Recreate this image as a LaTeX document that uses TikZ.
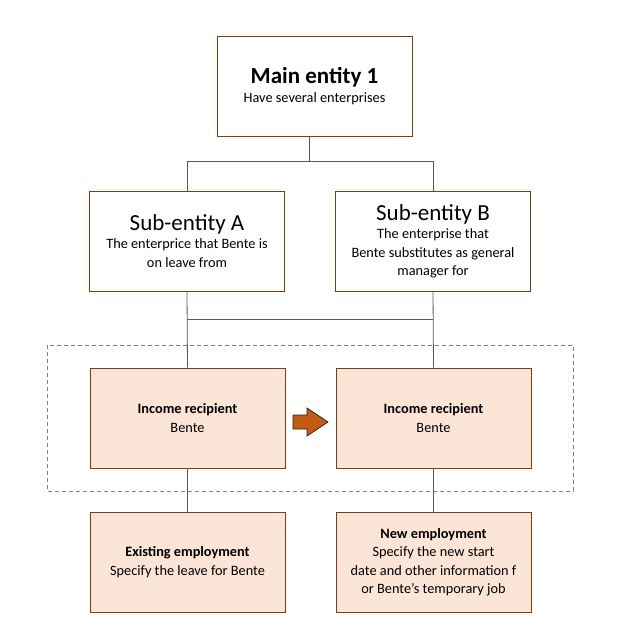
\documentclass[tikz,border=0pt]{standalone}
\usepackage{fontspec}
\setmainfont{Carlito}
\usetikzlibrary{positioning}
\definecolor{bordo}{HTML}{843C0C}
\definecolor{pesca}{HTML}{FBE5D6}
\definecolor{ruggine}{HTML}{C55A11}
\definecolor{linea}{HTML}{595959}
\begin{document}
\begin{tikzpicture}[
			x=1pt, y=-1pt, font=\fontsize{14.3}{18.5}\selectfont,
			ente/.style={draw=bordo, line width=1pt, minimum width=195pt, minimum height=100pt, align=center, inner sep=2pt},
			reddito/.style={ente, fill=pesca},
			filo/.style={draw=linea, line width=0.8pt}]
			\useasboundingbox (0,0) rectangle (640,632);
			\def\tit{\fontsize{23}{27}\selectfont}
			
			%% livello alto: ente principale e sotto-enti
			\node[ente] (main) at (314.5,86) {{\tit\bfseries Main entity 1}\\Have several enterprises};
			\node[ente] (subA) at (187,241) {{\tit Sub-entity A}\\The enterprice that Bente is\\on leave from};
			\node[ente] (subB) at (433,241) {{\tit Sub-entity B}\\The enterprise that\\Bente substitutes as general\\manager for};
			
			%% riquadro tratteggiato attorno ai percettori
			\draw[draw=gray, line width=0.8pt, dash pattern=on 4pt off 3pt] (47,345) rectangle (573,491);
			\node[reddito] (incA) at (187.5,418) {\textbf{Income recipient}\\Bente};
			\node[reddito] (incB) at (433.5,418) {\textbf{Income recipient}\\Bente};
			
			%% freccia piena tra i due percettori
			\coordinate (passa) at (310.5,422);
			\filldraw[fill=ruggine, draw=black!85, line width=0.8pt, line join=miter]
				(passa) ++(-17.5,-7) -- ++(14,0) -- ++(0,-7) -- ++(21,14) -- ++(-21,14) -- ++(0,-7) -- ++(-14,0) -- cycle;
			
			%% impieghi
			\node[reddito] (empA) at (187.5,562) {\textbf{Existing employment}\\Specify the leave for Bente};
			\node[reddito] (empB) at (433.5,562) {\textbf{New employment}\\Specify the new start\\date and other information f\\or Bente's temporary job};
			
			%% collegamenti
			\draw[filo] ([xshift=-5pt]main.south) -- ++(0,25) coordinate (nodo1);
			\draw[filo] (subA.north) |- (nodo1) -| (subB.north);
			\path (subA.south) ++(0,28) coordinate (nodo2);
			\draw[filo] (subA.south) -- (incA.north);
			\draw[filo] (subB.south) -- (incB.north);
			\draw[filo] (nodo2) -- (nodo2 -| subB.south);
			\draw[filo] (incA.south) -- (empA.north);
			\draw[filo] (incB.south) -- (empB.north);
		\end{tikzpicture}
\end{document}
